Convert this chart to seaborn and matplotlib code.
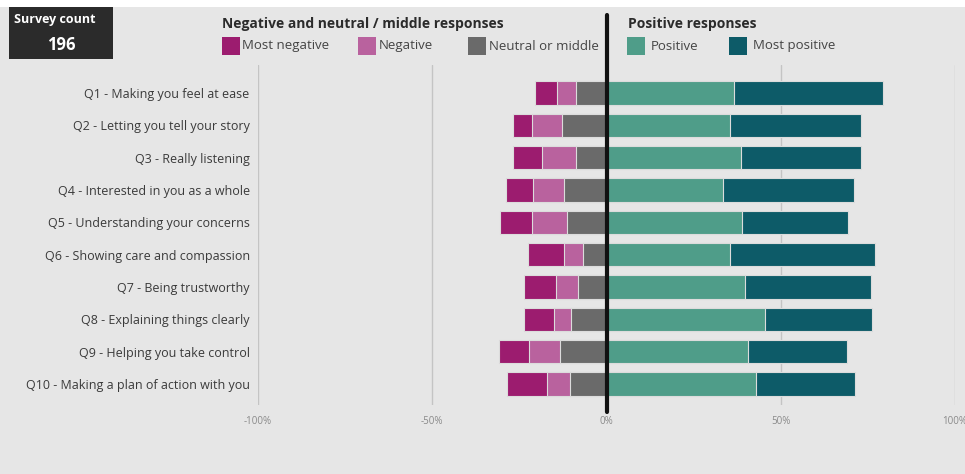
import matplotlib
matplotlib.use("Agg")
import matplotlib.pyplot as plt
import matplotlib.patches as mpatches
import seaborn as sns
import pandas as pd
import numpy as np

questions = [
    "Q1 - Making you feel at ease",
    "Q2 - Letting you tell your story",
    "Q3 - Really listening",
    "Q4 - Interested in you as a whole",
    "Q5 - Understanding your concerns",
    "Q6 - Showing care and compassion",
    "Q7 - Being trustworthy",
    "Q8 - Explaining things clearly",
    "Q9 - Helping you take control",
    "Q10 - Making a plan of action with you",
]
most_negative = [6.5, 5.6, 8.2, 7.6, 9.1, 10.5, 9.3, 8.6, 8.7, 11.3]
negative = [5.4, 8.4, 9.9, 8.9, 10.0, 5.5, 6.3, 4.9, 8.8, 6.8]
neutral = [8.7, 12.9, 8.7, 12.3, 11.4, 6.6, 8.2, 10.2, 13.4, 10.4]
positive = [36.6, 35.4, 38.6, 33.4, 38.9, 35.5, 39.8, 45.4, 40.7, 43.0]
most_positive = [42.7, 37.6, 34.5, 37.5, 30.4, 41.6, 36.2, 30.8, 28.2, 28.4]
survey_count = 196
tick_values = [-100, -50, 0, 50, 100]
tick_labels = ["-100%", "-50%", "0%", "50%", "100%"]

c_mneg = "#9c1c6f"
c_neg = "#b9629e"
c_neu = "#6a6a6a"
c_pos = "#4f9d89"
c_mpos = "#0d5b68"
bg = "#e6e6e6"

sns.set_style("white")
plt.rcParams["font.family"] = ["Open Sans", "DejaVu Sans"]

df = pd.DataFrame({
    "q": questions,
    "mneg": most_negative,
    "neg": negative,
    "neu": neutral,
    "pos": positive,
    "mpos": most_positive,
})
df["neg_total"] = -(df["mneg"] + df["neg"] + df["neu"])
df["neg_mid"] = -(df["neg"] + df["neu"])
df["neu_only"] = -df["neu"]
df["pos_total"] = df["pos"] + df["mpos"]

W, H = 965, 474
fig = plt.figure(figsize=(W / 100, H / 100), dpi=100, facecolor=bg)
ax_top, ax_bot = 65, 405
ax = fig.add_axes([258 / W, 1 - ax_bot / H, 697 / W, (ax_bot - ax_top) / H])
ax.set_facecolor(bg)

# top white strip
fig.patches.append(mpatches.Rectangle((0, 1 - 7 / H), 1, 7 / H, transform=fig.transFigure,
                                      facecolor="white", edgecolor="none", zorder=0))

for xv in tick_values:
    if xv != 0:
        ax.axvline(xv, color="#c4c4c4", lw=1, zorder=0)

layers = [("neg_total", c_mneg), ("neg_mid", c_neg), ("neu_only", c_neu),
          ("pos_total", c_mpos), ("pos", c_pos)]
for col, color in layers:
    sns.barplot(data=df, x=col, y="q", orient="h", color=color, saturation=1, width=0.72,
                edgecolor="#dcdcdc", linewidth=0.8, ax=ax, zorder=2)

ax.set_xlim(-100, 100)
row_px = (384 - 93) / 9
ax.set_ylim(9 + (ax_bot - 384) / row_px, -(93 - ax_top) / row_px)
ax.set_xticks(tick_values)
ax.set_xticklabels(tick_labels, fontsize=7, color="#8a8a8a")
ax.tick_params(axis="x", length=0, pad=8)
ax.tick_params(axis="y", length=0, pad=6, labelsize=9, labelcolor="#3a3a3a")
ax.set_xlabel("")
ax.set_ylabel("")
for s in ax.spines.values():
    s.set_visible(False)

# zero line
ax.axvline(0, ymin=(ax_bot - 412) / (ax_bot - ax_top), ymax=(ax_bot - 15) / (ax_bot - ax_top),
           color="#111111", lw=3, clip_on=False, zorder=5)

def fx(px):
    return px / W

def fy(py):
    return 1 - py / H

# survey count box
fig.patches.append(mpatches.Rectangle((fx(9), fy(59)), fx(104), 52 / H, transform=fig.transFigure,
                                      facecolor="#2b2b2b", edgecolor="none", zorder=1))
fig.text(fx(14), fy(20), "Survey count", color="white", fontsize=9, fontweight="bold",
         ha="left", va="center")
fig.text(fx(61), fy(45), str(survey_count), color="white", fontsize=12, fontweight="bold",
         ha="center", va="center")

# legend headers
fig.text(fx(222), fy(24), "Negative and neutral / middle responses", fontsize=10,
         fontweight="bold", color="#2b2b2b", ha="left", va="center")
fig.text(fx(628), fy(24), "Positive responses", fontsize=10,
         fontweight="bold", color="#2b2b2b", ha="left", va="center")

legend_items = [(222, 242, c_mneg, "Most negative"), (358, 379, c_neg, "Negative"),
                (468, 489, c_neu, "Neutral or middle"), (627, 651, c_pos, "Positive"),
                (729, 753, c_mpos, "Most positive")]
for px, tx, color, label in legend_items:
    fig.patches.append(mpatches.Rectangle((fx(px), fy(55)), fx(17.5), 18 / H,
                                          transform=fig.transFigure, facecolor=color,
                                          edgecolor="none", zorder=1))
    fig.text(fx(tx), fy(46), label, fontsize=9.5, color="#444444", ha="left", va="center")

fig.savefig("out.png", dpi=100, facecolor=bg)
